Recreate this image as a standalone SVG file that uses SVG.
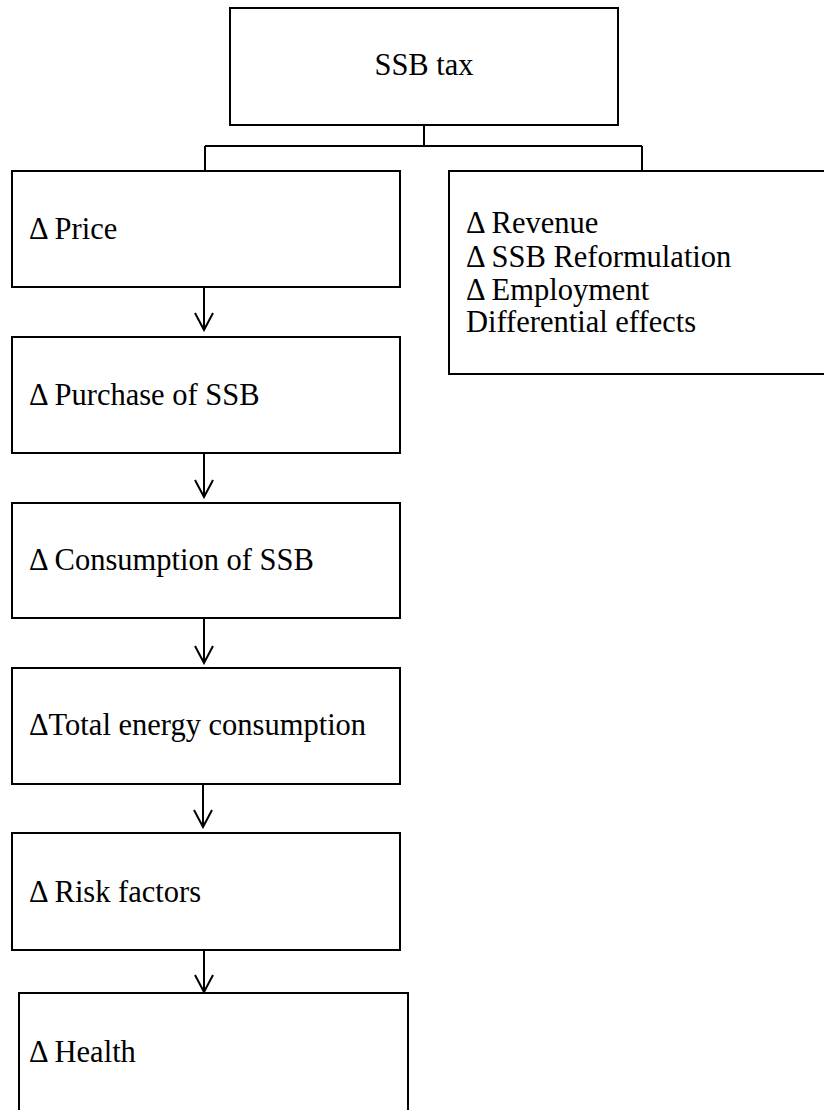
<svg xmlns="http://www.w3.org/2000/svg" width="824" height="1110" viewBox="0 0 824 1110">
<style>
.box{fill:#fff;stroke:#000;stroke-width:2}
.c{fill:none;stroke:#000;stroke-width:2}
</style>
<defs>
<marker id="arr" viewBox="0 0 20 20" refX="18" refY="10" markerWidth="20" markerHeight="20" markerUnits="userSpaceOnUse" orient="auto">
<path d="M1,1 L18,10 L1,19" fill="none" stroke="#000" stroke-width="2"/>
</marker>
</defs>
<rect width="824" height="1110" fill="#fff"/>
<g id="connectors">
<path class="c" d="M424,125 V146 M205,146 H642 M205,146 V171 M642,146 V171"/>
<line class="c" x1="204" y1="287" x2="204" y2="330" marker-end="url(#arr)"/>
<line class="c" x1="204" y1="453" x2="204" y2="497" marker-end="url(#arr)"/>
<line class="c" x1="204" y1="618" x2="204" y2="663" marker-end="url(#arr)"/>
<line class="c" x1="203" y1="784" x2="203" y2="827" marker-end="url(#arr)"/>
<line class="c" x1="204" y1="950" x2="204" y2="992" marker-end="url(#arr)"/>
</g>
<g id="ssb-tax">
<rect class="box" x="230" y="8" width="388" height="117"/>
<text x="424" y="75" text-anchor="middle" font-family="Liberation Serif" font-size="30.5" fill="#000">SSB tax</text>
</g>
<g id="price">
<rect class="box" x="12" y="171" width="388" height="116"/>
<text x="29" y="239" font-family="Liberation Serif" font-size="30.5" fill="#000">Δ Price</text>
</g>
<g id="other-effects">
<rect class="box" x="449" y="171" width="385" height="203"/>
<text x="466" y="233" font-family="Liberation Serif" font-size="30.5" fill="#000">Δ Revenue</text>
<text x="466" y="266.5" font-family="Liberation Serif" font-size="30.5" fill="#000">Δ SSB Reformulation</text>
<text x="466" y="299.5" font-family="Liberation Serif" font-size="30.5" fill="#000">Δ Employment</text>
<text x="466" y="332" font-family="Liberation Serif" font-size="30.5" fill="#000">Differential effects</text>
</g>
<g id="purchase">
<rect class="box" x="12" y="337" width="388" height="116"/>
<text x="29" y="405" font-family="Liberation Serif" font-size="30.5" fill="#000">Δ Purchase of SSB</text>
</g>
<g id="consumption">
<rect class="box" x="12" y="503" width="388" height="115"/>
<text x="29" y="570" font-family="Liberation Serif" font-size="30.5" fill="#000">Δ Consumption of SSB</text>
</g>
<g id="total-energy">
<rect class="box" x="12" y="668" width="388" height="116"/>
<text x="29" y="735" font-family="Liberation Serif" font-size="30.5" fill="#000">ΔTotal energy consumption</text>
</g>
<g id="risk-factors">
<rect class="box" x="12" y="833" width="388" height="117"/>
<text x="29" y="902" font-family="Liberation Serif" font-size="30.5" fill="#000">Δ Risk factors</text>
</g>
<g id="health">
<rect class="box" x="19" y="993" width="389" height="130"/>
<text x="29" y="1062" font-family="Liberation Serif" font-size="30.5" fill="#000">Δ Health</text>
</g>
</svg>
